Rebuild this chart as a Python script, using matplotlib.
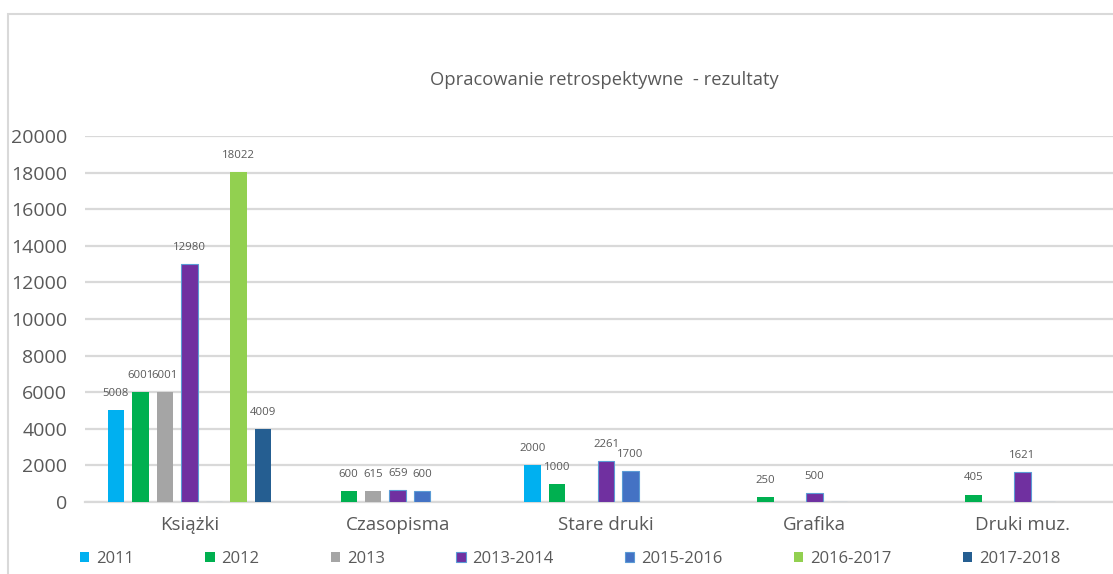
import numpy as np
import matplotlib
matplotlib.use("Agg")
import matplotlib.pyplot as plt
from matplotlib.patches import Rectangle

plt.rcParams['font.family'] = ['Open Sans', 'DejaVu Sans']

# Data
categories = ['Książki', 'Czasopisma', 'Stare druki', 'Grafika', 'Druki muz.']
series_names = ['2011', '2012', '2013', '2013-2014', '2015-2016', '2016-2017', '2017-2018']
s2011 = [5008, np.nan, 2000, np.nan, np.nan]
s2012 = [6001, 600, 1000, 250, 405]
s2013 = [6001, 615, np.nan, np.nan, np.nan]
s2013_2014 = [12980, 659, 2261, 500, 1621]
s2015_2016 = [np.nan, 600, 1700, np.nan, np.nan]
s2016_2017 = [18022, np.nan, np.nan, np.nan, np.nan]
s2017_2018 = [4009, np.nan, np.nan, np.nan, np.nan]
all_series = [s2011, s2012, s2013, s2013_2014, s2015_2016, s2016_2017, s2017_2018]

colors = ['#00B0F0', '#00B050', '#A5A5A5', '#7030A0', '#4472C4', '#92D050', '#255E91']
edges = [None, None, None, '#5B9BD5', '#5B9BD5', None, None]

W, H = 1113, 574
fig = plt.figure(figsize=(W / 100, H / 100), dpi=100)

# outer chart border (Excel chart area)
fig.patches.append(Rectangle((8 / W, -0.2), 1.2, 1.2 - 14 / H,
                             transform=fig.transFigure, fill=False,
                             edgecolor='#D9D9D9', linewidth=1.5))

ax = fig.add_axes([85.3 / W, 1 - 502 / H, 1041.4 / W, (502 - 136) / H])

x = np.arange(len(categories))
pitch = 0.1176
bw = 0.079
grey_text = '#595959'

for i, (vals, c, e) in enumerate(zip(all_series, colors, edges)):
    pos = x + (i - 3) * pitch
    v = np.array(vals, dtype=float)
    ax.bar(pos, np.nan_to_num(v), width=bw, color=c,
           edgecolor=e if e else c, linewidth=0.8 if e else 0,
           label=series_names[i], zorder=3)
    for p, val in zip(pos, v):
        if not np.isnan(val):
            ax.annotate(f'{int(val)}', (p, val), xytext=(0, 8),
                        textcoords='offset points', ha='center', va='bottom',
                        fontsize=8.2, color=grey_text)

ax.set_xlim(-0.5, len(categories) - 0.5)
ax.set_ylim(0, 20000)
ax.set_yticks(np.arange(0, 20001, 2000))
ax.set_xticks(x)
ax.set_xticklabels(categories)
ax.tick_params(axis='y', length=0, pad=13, labelsize=14, labelcolor=grey_text)
ax.tick_params(axis='x', length=0, pad=10, labelsize=13.5, labelcolor=grey_text)
ax.grid(True, axis='y', color='#D9D9D9', linewidth=1.6, zorder=0)
for s in ['top', 'right', 'left']:
    ax.spines[s].set_visible(False)
ax.spines['bottom'].set_color('#D9D9D9')
ax.spines['bottom'].set_linewidth(1.6)

fig.text(604 / W, 1 - 80 / H, 'Opracowanie retrospektywne  - rezultaty',
         ha='center', va='center', fontsize=13.2, color=grey_text)

leg = fig.legend(loc='center left', bbox_to_anchor=(80 / W, 1 - 559 / H), ncol=7,
                 frameon=False, fontsize=12, handlelength=0.55, handleheight=0.55,
                 handletextpad=0.4, columnspacing=4.3, borderpad=0, borderaxespad=0)
for t in leg.get_texts():
    t.set_color(grey_text)

fig.savefig('out.png', dpi=100)
